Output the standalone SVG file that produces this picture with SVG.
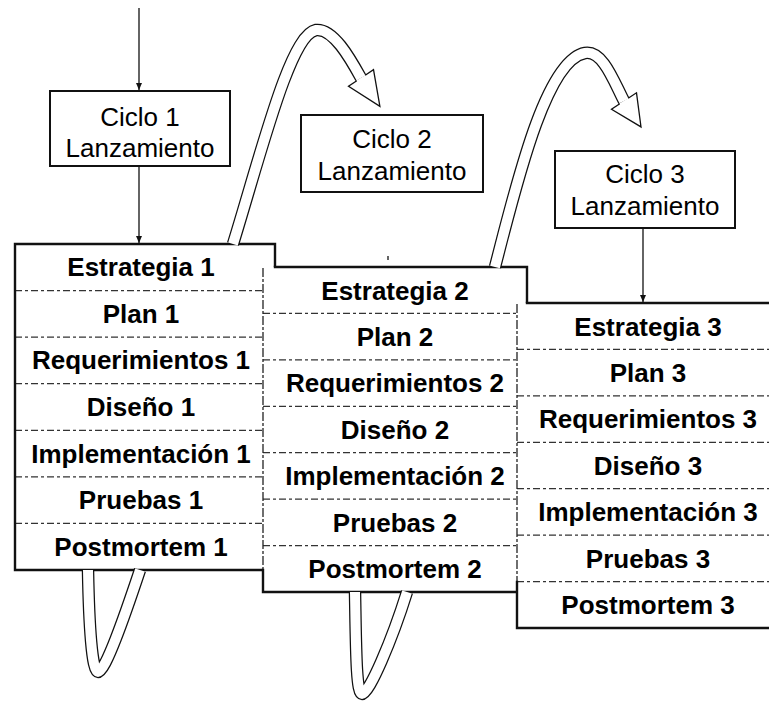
<svg xmlns="http://www.w3.org/2000/svg" width="769" height="701" viewBox="0 0 769 701">
  <defs>
    <marker id="tip" markerWidth="8" markerHeight="8" refX="7" refY="4" orient="auto" markerUnits="userSpaceOnUse">
      <path d="M0,1 L7,4 L0,7 Z" fill="#111"/>
    </marker>
    <style>
      .frame{fill:#fff;stroke:none}
      .edge{stroke:#111;stroke-width:2.4;fill:none;stroke-linecap:square}
      .side{stroke:#222;stroke-width:1.3;fill:none;stroke-dasharray:9 2 3 2}
      .sep{stroke:#333;stroke-width:1.2;stroke-dasharray:7 3 3 3;fill:none}
      .cap{fill:#fff;stroke:#111;stroke-width:2}
      .row{font-family:"Liberation Sans",Arial,sans-serif;font-weight:bold;font-size:26px;fill:#000;text-anchor:middle}
      .lbl{font-family:"Liberation Sans",Arial,sans-serif;font-size:26px;fill:#000;text-anchor:middle}
      .link{stroke:#111;stroke-width:1.3;fill:none}
      .band-o{stroke:#111;stroke-width:12.5;fill:none}
      .band-i{stroke:#fff;stroke-width:10;fill:none}
      .head{fill:#fff;stroke:#111;stroke-width:1.3;stroke-linejoin:miter}
    </style>
  </defs>
  <rect width="769" height="701" fill="#fff"/>

  <!-- Release boxes -->
  <g id="ciclo-1">
    <rect class="cap" x="50" y="91" width="180" height="75"/>
    <text class="lbl" x="140" y="126">Ciclo 1</text>
    <text class="lbl" x="140" y="157">Lanzamiento</text>
  </g>
  <g id="ciclo-2">
    <rect class="cap" x="301" y="115" width="182" height="77"/>
    <text class="lbl" x="392" y="148">Ciclo 2</text>
    <text class="lbl" x="392" y="180">Lanzamiento</text>
  </g>
  <g id="ciclo-3">
    <rect class="cap" x="555" y="151" width="180" height="77"/>
    <text class="lbl" x="645" y="183">Ciclo 3</text>
    <text class="lbl" x="645" y="215">Lanzamiento</text>
  </g>

  <!-- Phase stack, cycle 1 -->
  <g id="fases-1">
    <rect class="frame" x="15" y="244" width="260" height="326"/>
    <path class="sep" d="M15,290.6H263M15,337.1H263M15,383.7H263M15,430.3H263M15,476.9H263M15,523.4H263"/>
    <path class="edge" d="M275,267V244H15V570H263"/>
    <text class="row" x="141" y="276.3">Estrategia 1</text>
    <text class="row" x="141" y="322.9">Plan 1</text>
    <text class="row" x="141" y="369.4">Requerimientos 1</text>
    <text class="row" x="141" y="416">Diseño 1</text>
    <text class="row" x="141" y="462.6">Implementación 1</text>
    <text class="row" x="141" y="509.1">Pruebas 1</text>
    <text class="row" x="141" y="555.7">Postmortem 1</text>
  </g>

  <!-- Phase stack, cycle 2 -->
  <g id="fases-2">
    <rect class="frame" x="263" y="267" width="264" height="325"/>
    <path class="sep" d="M263,313.4H527M263,359.9H527M263,406.3H527M263,452.7H527M263,499.1H527M263,545.6H527"/>
    <path class="side" d="M263,268V570"/>
    <path class="edge" d="M275,267H527V592H263V570"/>
    <text class="row" x="395" y="299.5">Estrategia 2</text>
    <text class="row" x="395" y="345.9">Plan 2</text>
    <text class="row" x="395" y="392.4">Requerimientos 2</text>
    <text class="row" x="395" y="438.8">Diseño 2</text>
    <text class="row" x="395" y="485.2">Implementación 2</text>
    <text class="row" x="395" y="531.7">Pruebas 2</text>
    <text class="row" x="395" y="578.1">Postmortem 2</text>
  </g>

  <!-- Phase stack, cycle 3 -->
  <g id="fases-3">
    <rect class="frame" x="517" y="303" width="260" height="325"/>
    <path class="sep" d="M517,349.4H775M517,395.9H775M517,442.3H775M517,488.7H775M517,535.1H775M517,581.6H775"/>
    <path class="side" d="M517,304V582"/>
    <path class="edge" d="M527,303H775M775,628H517V582"/>
    <text class="row" x="648" y="335.5">Estrategia 3</text>
    <text class="row" x="648" y="381.9">Plan 3</text>
    <text class="row" x="648" y="428.4">Requerimientos 3</text>
    <text class="row" x="648" y="474.8">Diseño 3</text>
    <text class="row" x="648" y="521.2">Implementación 3</text>
    <text class="row" x="648" y="567.7">Pruebas 3</text>
    <text class="row" x="648" y="614.1">Postmortem 3</text>
  </g>

  <!-- Connectors -->
  <g id="connectors">
    <path class="link" d="M139,8V90" marker-end="url(#tip)"/>
    <path class="link" d="M139,167V243" marker-end="url(#tip)"/>
    <path class="link" d="M643,229V302" marker-end="url(#tip)"/>
    <path class="link" d="M388,256V260"/>

    <!-- spiral from cycle 1 to cycle 2 -->
    <path class="band-o" d="M233,244C262,150 290,35 316,30C333,28 350,58 361,78"/>
    <path class="band-i" d="M233,244C262,150 290,35 316,30C333,28 350,58 361,78"/>
    <polyline class="head" points="356.8,80.8 348.5,86.3 379.9,106.3 373.5,69.7 365.2,75.2"/>
    <path class="band-o" d="M88,570C89,625 92,672 98,672C105,672 124,618 140,570"/>
    <path class="band-i" d="M88,570C89,625 92,672 98,672C105,672 124,618 140,570"/>

    <!-- spiral from cycle 2 to cycle 3 -->
    <path class="band-o" d="M495,267C515,190 545,60 585,53C603,50 614,82 624,101"/>
    <path class="band-i" d="M495,267C515,190 545,60 585,53C603,50 614,82 624,101"/>
    <polyline class="head" points="619.8,103.8 611.5,109.3 641,126.9 636.5,92.8 628.2,98.3"/>
    <path class="band-o" d="M355,592C356,645 356,694 362,694C369,694 392,640 407,592"/>
    <path class="band-i" d="M355,592C356,645 356,694 362,694C369,694 392,640 407,592"/>
  </g>
</svg>
